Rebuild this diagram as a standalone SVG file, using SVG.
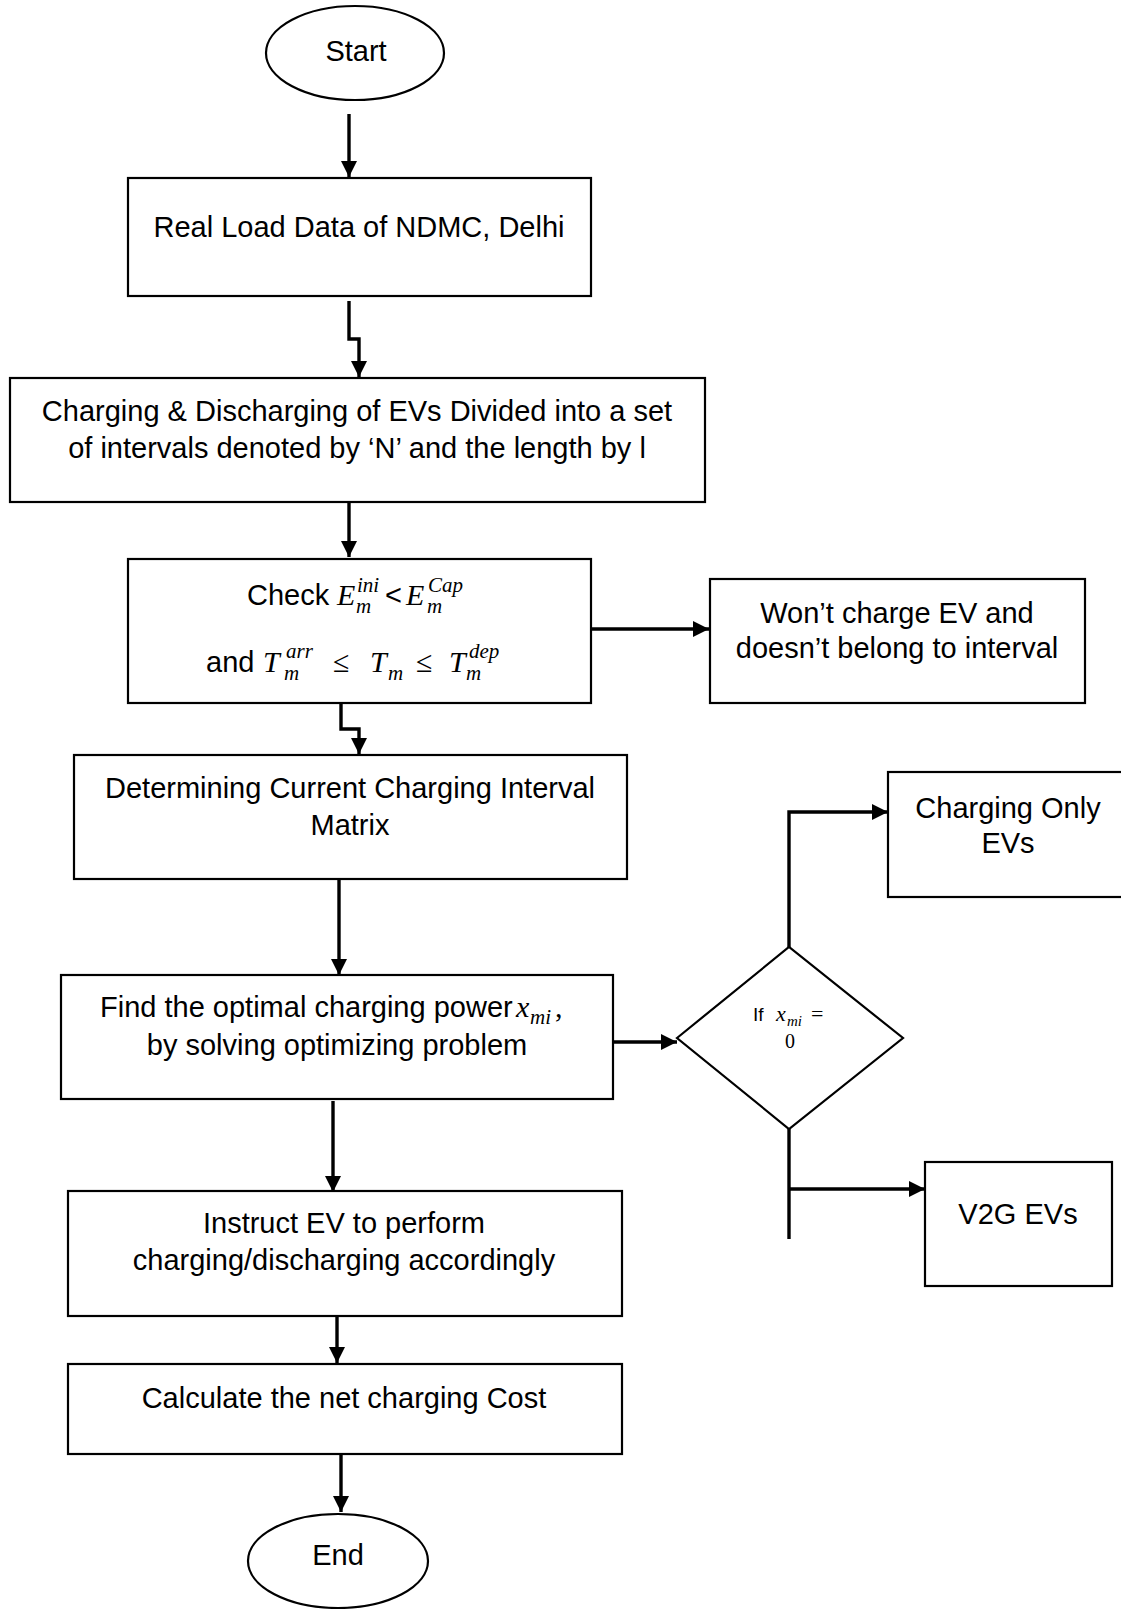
<svg xmlns="http://www.w3.org/2000/svg" width="1121" height="1609" viewBox="0 0 1121 1609">
<defs>
<style>
.box{fill:#fff;stroke:#000;stroke-width:2.2}
.t{font-family:"Liberation Sans",Arial,sans-serif;font-size:29px;fill:#000;text-anchor:middle}
.ts{font-family:"Liberation Sans",Arial,sans-serif;font-size:29px;fill:#000}
.m{font-family:"Liberation Serif","Times New Roman",serif;font-style:italic;font-size:30px;fill:#000}
.ms{font-family:"Liberation Serif","Times New Roman",serif;font-style:italic;font-size:21px;fill:#000}
.mu{font-family:"Liberation Serif","Times New Roman",serif;font-size:30px;fill:#000}
.conn{fill:none;stroke:#000;stroke-width:3.4}
</style>
<marker id="ah" markerUnits="userSpaceOnUse" markerWidth="18" markerHeight="18" refX="16" refY="9" orient="auto">
<path d="M0,1 L16,9 L0,17 z" fill="#000"/>
</marker>
</defs>
<rect width="1121" height="1609" fill="#fff"/>

<g id="connectors">
<path class="conn" d="M349,114 V177" marker-end="url(#ah)"/>
<path class="conn" d="M349,301 V339 H359 V377" marker-end="url(#ah)"/>
<path class="conn" d="M349,498 V557" marker-end="url(#ah)"/>
<path class="conn" d="M591,629 H709" marker-end="url(#ah)"/>
<path class="conn" d="M341,703 V729 H359 V754" marker-end="url(#ah)"/>
<path class="conn" d="M339,879 V975" marker-end="url(#ah)"/>
<path class="conn" d="M613,1042 H677" marker-end="url(#ah)"/>
<path class="conn" d="M789,947 V812 H888" marker-end="url(#ah)"/>
<path class="conn" d="M789,1129 V1239"/>
<path class="conn" d="M789,1189 H925" marker-end="url(#ah)"/>
<path class="conn" d="M333,1101 V1192" marker-end="url(#ah)"/>
<path class="conn" d="M337,1316 V1363" marker-end="url(#ah)"/>
<path class="conn" d="M341,1449 V1512" marker-end="url(#ah)"/>
</g>

<g id="start">
<ellipse cx="355" cy="53" rx="89" ry="47" fill="#fff" stroke="#000" stroke-width="2.2"/>
<text class="t" x="356" y="61">Start</text>
</g>

<g id="load-data">
<rect class="box" x="128" y="178" width="463" height="118"/>
<text class="t" x="359" y="237">Real Load Data of NDMC, Delhi</text>
</g>

<g id="intervals">
<rect class="box" x="10" y="378" width="695" height="124"/>
<text class="t" x="357" y="421">Charging &amp; Discharging of EVs Divided into a set</text>
<text class="t" x="357" y="458">of intervals denoted by ‘N’ and the length by l</text>
</g>

<g id="check">
<rect class="box" x="128" y="559" width="463" height="144"/>
<text class="ts" x="247" y="605">Check</text>
<text class="m" x="337" y="605">E</text>
<text class="ms" x="357" y="592">ini</text>
<text class="ms" x="356" y="613">m</text>
<text class="ts" x="385" y="605">&lt;</text>
<text class="m" x="406" y="605">E</text>
<text class="ms" x="428" y="592">Cap</text>
<text class="ms" x="427" y="613">m</text>
<text class="ts" x="206" y="672">and</text>
<text class="m" x="263" y="672">T</text>
<text class="ms" x="286" y="658">arr</text>
<text class="ms" x="284" y="680">m</text>
<text class="mu" x="333" y="672">≤</text>
<text class="m" x="370" y="672">T</text>
<text class="ms" x="388" y="680">m</text>
<text class="mu" x="416" y="672">≤</text>
<text class="m" x="449" y="672">T</text>
<text class="ms" x="469" y="658">dep</text>
<text class="ms" x="466" y="680">m</text>
</g>

<g id="wont-charge">
<rect class="box" x="710" y="579" width="375" height="124"/>
<text class="t" x="897" y="623">Won’t charge EV and</text>
<text class="t" x="897" y="658">doesn’t belong to interval</text>
</g>

<g id="determining">
<rect class="box" x="74" y="755" width="553" height="124"/>
<text class="t" x="350" y="798">Determining Current Charging Interval</text>
<text class="t" x="350" y="835">Matrix</text>
</g>

<g id="optimal">
<rect class="box" x="61" y="975" width="552" height="124"/>
<text class="ts" x="100" y="1017">Find the optimal charging power</text>
<text class="m" x="516" y="1017">x</text>
<text class="ms" x="530" y="1024">mi</text>
<text class="mu" x="555" y="1017">,</text>
<text class="t" x="337" y="1055">by solving optimizing problem</text>
</g>

<g id="decision">
<path d="M677,1038 L789,947 L903,1038 L789,1129 Z" fill="#fff" stroke="#000" stroke-width="2.2"/>
<text x="753" y="1021" style="font-family:'Liberation Sans',Arial,sans-serif;font-size:19px">If</text>
<text x="776" y="1021" style="font-family:'Liberation Serif',serif;font-style:italic;font-size:22px">x</text>
<text x="787" y="1026" style="font-family:'Liberation Serif',serif;font-style:italic;font-size:15px">mi</text>
<text x="811" y="1021" style="font-family:'Liberation Serif',serif;font-size:22px">=</text>
<text x="790" y="1048" text-anchor="middle" style="font-family:'Liberation Serif',serif;font-size:20px">0</text>
</g>

<g id="charging-only">
<rect class="box" x="888" y="772" width="240" height="125"/>
<text class="t" x="1008" y="818">Charging Only</text>
<text class="t" x="1008" y="853">EVs</text>
</g>

<g id="v2g">
<rect class="box" x="925" y="1162" width="187" height="124"/>
<text class="t" x="1018" y="1224">V2G EVs</text>
</g>

<g id="instruct">
<rect class="box" x="68" y="1191" width="554" height="125"/>
<text class="t" x="344" y="1233">Instruct EV to perform</text>
<text class="t" x="344" y="1270">charging/discharging accordingly</text>
</g>

<g id="cost">
<rect class="box" x="68" y="1364" width="554" height="90"/>
<text class="t" x="344" y="1408">Calculate the net charging Cost</text>
</g>

<g id="end">
<ellipse cx="338" cy="1561" rx="90" ry="47" fill="#fff" stroke="#000" stroke-width="2.2"/>
<text class="t" x="338" y="1565">End</text>
</g>
</svg>
